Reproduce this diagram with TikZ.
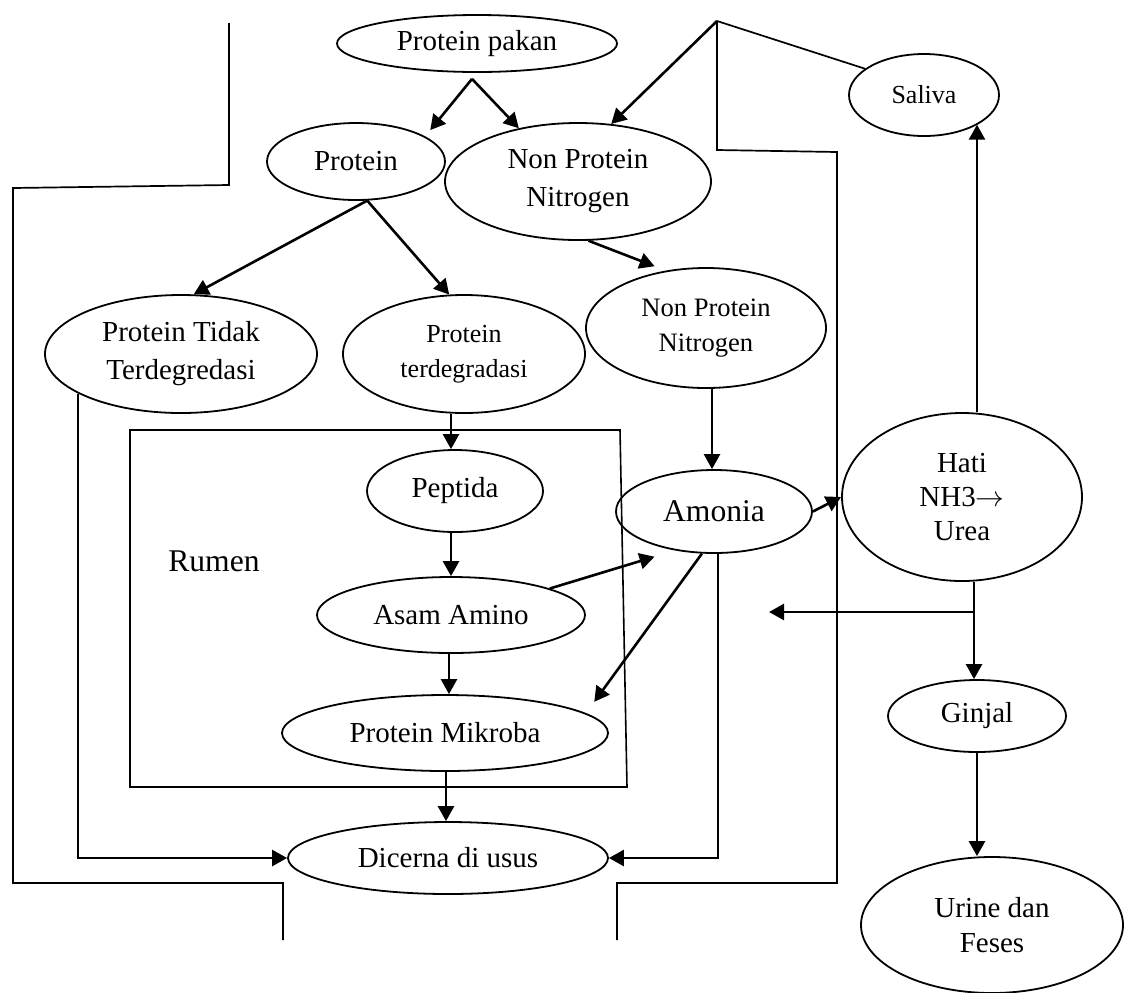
\documentclass[tikz,border=0pt]{standalone}
\usepackage{fontspec}
\setmainfont{Liberation Serif}
\usetikzlibrary{shapes.geometric,arrows.meta}
\begin{document}
\begin{tikzpicture}[x=0.5pt,y=-0.5pt,
  ell/.style={ellipse,draw,line width=0.9pt,inner sep=0pt,align=center,font=\fontsize{14.5}{19}\selectfont},
  arr/.style={line width=1.3pt,-{Triangle[length=7.5pt,width=8pt]}},
  frameline/.style={line width=0.85pt},
  ]
\useasboundingbox (0,0) rectangle (1124,992);

% nodes
\node[ell,minimum width=140pt,minimum height=28.5pt] (pakan) at (477,43.5) {Protein pakan};
\node[ell,minimum width=89pt,minimum height=38.5pt] (protein) at (356,161.5) {Protein};
\node[ell,minimum width=133pt,minimum height=58.5pt] (npn1) at (578,181.5) {Non Protein\\Nitrogen};
\node[ell,minimum width=75pt,minimum height=41pt,font=\fontsize{13}{16}\selectfont] (saliva) at (924,95) {Saliva};
\node[ell,minimum width=136pt,minimum height=59pt] (tidak) at (181,354) {Protein Tidak\\Terdegredasi};
\node[ell,minimum width=121pt,minimum height=59pt,font=\fontsize{13}{17.5}\selectfont] (degr) at (464,354) {Protein\\terdegradasi};
\node[ell,minimum width=120pt,minimum height=60pt,font=\fontsize{13.3}{17.5}\selectfont] (npn2) at (706,328) {Non Protein\\Nitrogen};
\node[ell,minimum width=88pt,minimum height=41pt] (peptida) at (455,491) {Peptida};
\node[ell,minimum width=98pt,minimum height=41.5pt,font=\fontsize{15.8}{19}\selectfont] (amonia) at (714,511.5) {Amonia};
\node[ell,minimum width=120pt,minimum height=84pt,font=\fontsize{14.5}{17}\selectfont] (hati) at (962,497) {Hati\\NH3$\rightarrow$\\Urea};
\node[ell,minimum width=134pt,minimum height=38pt] (asam) at (451,615) {Asam Amino};
\node[ell,minimum width=163pt,minimum height=38pt] (mikroba) at (445,733) {Protein Mikroba};
\node[ell,minimum width=160pt,minimum height=36pt] (dicerna) at (448,858) {Dicerna di usus};
\node[ell,minimum width=89pt,minimum height=36pt] (ginjal) at (977,716) {Ginjal};
\node[ell,minimum width=131pt,minimum height=68pt,font=\fontsize{14.5}{17.5}\selectfont] (urine) at (992,925) {Urine dan\\Feses};
\node[font=\fontsize{15.8}{19}\selectfont,inner sep=0pt] (rumen) at (214,561) {Rumen};

% coordinates
\coordinate (top) at (717,21);
\coordinate (branch) at (974,612);
\coordinate (branchend) at (769,612);

% rumen box
\draw[line width=0.8pt] (130,430) -- (620,430) -- (627,787) -- (130,787) -- cycle;

% frame lines
\draw[frameline] (229,23) -- (229,185) -- (13,188) -- (13,883) -- (283,883) -- (283,940);
\draw[frameline] (top) -- (717,150) -- (837,152) -- (837,883) -- (617,883) -- (617,940);
\draw[frameline] (top) -- (saliva.156);

% arrows
\draw[arr,shorten >=4pt] ([xshift=-2.5pt,yshift=-3pt]pakan.south) -- (protein.20.8);
\draw[arr] ([xshift=-2.5pt,yshift=-3pt]pakan.south) -- (npn1.138.3);
\draw[arr] (top) -- (npn1.60.5);
\draw[arr] (protein.286) -- (tidak.78.5);
\draw[arr] (protein.286) -- (degr.104.4);
\draw[arr,shorten >=6pt] (npn1.280) -- (npn2.125.3);
\draw[arr] ([xshift=-6.5pt]degr.south) -- ([xshift=-6.5pt]degr.south |- peptida.north);
\draw[arr] ([xshift=3pt]npn2.south) -- ([xshift=3pt]npn2.south |- amonia.north);
\draw[arr] ([xshift=-2pt]peptida.south) -- ([xshift=-2pt]peptida.south |- asam.north);
\draw[arr,shorten >=10.7pt] (asam.15) -- (amonia.225.6);
\draw[arr,shorten >=7pt] (amonia.254) -- (mikroba.8.8);
\draw[arr] ([xshift=-1pt]asam.south) -- ([xshift=-1pt]asam.south |- mikroba.north);
\draw[arr] ([xshift=0.5pt]mikroba.south) -- ([xshift=0.5pt]mikroba.south |- dicerna.north);
\draw[arr] (tidak.201) |- (dicerna.west);
\draw[arr] ([xshift=2pt]amonia.south) |- (dicerna.east);
\draw[arr] (amonia.east) -- (hati.west);
\draw[arr] ([xshift=7.5pt]hati.north) -- ([xshift=7.5pt]hati.north |- saliva.-29);
\draw[arr] ([xshift=6pt]hati.south) -- ([xshift=6pt]hati.south |- ginjal.north);
\draw[arr] (branch) -- (branchend);
\draw[arr] (ginjal.south) -- (ginjal.south |- urine.north);
\end{tikzpicture}
\end{document}
